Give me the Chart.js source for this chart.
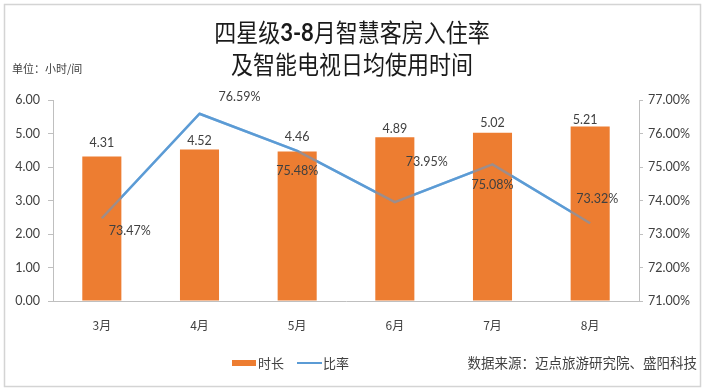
<!DOCTYPE html>
<html><head><meta charset="utf-8">
<script src="https://cdn.jsdelivr.net/npm/chart.js@4/dist/chart.umd.min.js"></script>
<style>html,body{margin:0;padding:0;background:#fff;}#wrap{width:705px;height:391px;position:relative;}</style>
</head><body><div id="wrap"><canvas id="c" width="705" height="391"></canvas></div>
<script>
// ---- data ----
const categories = ['3月','4月','5月','6月','7月','8月'];
const durationHours = [4.31, 4.52, 4.46, 4.89, 5.02, 5.21];      // 时长 (小时/间)
const occupancyRate = [73.47, 76.59, 75.48, 73.95, 75.08, 73.32]; // 比率 (%)
const leftTicks = [0, 1, 2, 3, 4, 5, 6];
const rightTicks = [71, 72, 73, 74, 75, 76, 77];
const seriesNames = ['时长', '比率'];
const titleLine1 = ['四星级', '3-8', '月智慧客房入住率'];
const titleLine2 = '及智能电视日均使用时间';
const unitText = '单位：小时/间';
const sourceText = '数据来源：迈点旅游研究院、盛阳科技';

// ---- styling / label placement (not data) ----
const ORANGE = '#ED7D31', BLUE = '#5B9BD5', TXT = '#404040', AXIS = '#bfbfbf';
const LATIN = 'Lato, "Liberation Sans", sans-serif';
const CJK = '"Noto Sans CJK SC", sans-serif';
const barLabelOffsets = [[0,-14],[0,-9],[0,-15],[0,-8],[0,-10],[-5,-6]];
const rateLabelOffsets = [[28,13],[40,-17],[0,20],[32,-40],[0,21],[7,-24]];

const decor = {
  id: 'decor',
  beforeDraw(chart) {
    const ctx = chart.ctx;
    ctx.save();
    ctx.fillStyle = '#fff';
    ctx.fillRect(0, 0, chart.width, chart.height);
    ctx.strokeStyle = '#d4d4d4';
    ctx.lineWidth = 1.5;
    ctx.strokeRect(4.5, 4.5, 696, 382);
    ctx.restore();
  },
  beforeDatasetsDraw(chart) {
    // solid copy of the rate line underneath the bars
    const meta = chart.getDatasetMeta(0);
    const ctx = chart.ctx;
    ctx.save();
    ctx.strokeStyle = BLUE;
    ctx.lineWidth = 2.5;
    ctx.lineJoin = 'round';
    ctx.beginPath();
    meta.data.forEach((p, i) => { if (i === 0) ctx.moveTo(p.x, p.y); else ctx.lineTo(p.x, p.y); });
    ctx.stroke();
    ctx.restore();
  },
  afterDatasetsDraw(chart) {
    const ctx = chart.ctx;
    ctx.save();
    ctx.fillStyle = TXT;
    ctx.textAlign = 'center';
    ctx.textBaseline = 'middle';
    ctx.font = '12.5px ' + LATIN;
    const barMeta = chart.getDatasetMeta(1);
    barMeta.data.forEach((b, i) => {
      const o = barLabelOffsets[i];
      ctx.fillText(durationHours[i].toFixed(2), b.x + o[0], b.y + o[1]);
    });
    const lineMeta = chart.getDatasetMeta(0);
    lineMeta.data.forEach((p, i) => {
      const o = rateLabelOffsets[i];
      ctx.fillText(occupancyRate[i].toFixed(2) + '%', p.x + o[0], p.y + o[1]);
    });
    ctx.restore();
  },
  afterDraw(chart) {
    const ctx = chart.ctx;
    ctx.save();
    // title
    ctx.fillStyle = '#1a1a1a';
    ctx.textBaseline = 'middle';
    ctx.textAlign = 'left';
    const fN = '22px ' + CJK, fB = 'bold 22px ' + LATIN;
    const fonts = [fN, fB, fN];
    let w = 0;
    titleLine1.forEach((s, i) => { ctx.font = fonts[i]; w += ctx.measureText(s).width; });
    ctx.save();
    ctx.translate(0, 33); ctx.scale(1, 1.12);
    let x = 352 - w / 2;
    titleLine1.forEach((s, i) => { ctx.font = fonts[i]; ctx.fillText(s, x, 0); x += ctx.measureText(s).width; });
    ctx.restore();
    ctx.save();
    ctx.translate(0, 65); ctx.scale(1, 1.12);
    ctx.font = fN; ctx.textAlign = 'center';
    ctx.fillText(titleLine2, 352, 0);
    ctx.restore();
    // unit
    ctx.fillStyle = TXT;
    ctx.textAlign = 'left';
    ctx.font = '11px ' + CJK;
    ctx.fillText(unitText, 12, 69);
    // legend
    ctx.font = '13px ' + CJK;
    ctx.fillStyle = ORANGE;
    ctx.fillRect(232, 360, 24, 6);
    ctx.fillStyle = TXT;
    ctx.fillText(seriesNames[0], 258, 363);
    ctx.strokeStyle = BLUE; ctx.lineWidth = 2;
    ctx.beginPath(); ctx.moveTo(297, 363); ctx.lineTo(322, 363); ctx.stroke();
    ctx.fillText(seriesNames[1], 323, 363);
    // source
    ctx.font = '13.5px ' + CJK;
    ctx.textAlign = 'right';
    ctx.fillText(sourceText, 697, 363);
    ctx.restore();
  }
};

new Chart(document.getElementById('c'), {
  type: 'bar',
  data: {
    labels: categories,
    datasets: [
      { type: 'line', label: seriesNames[1], data: occupancyRate, yAxisID: 'y1',
        borderColor: 'rgba(91,155,213,0.55)', borderWidth: 2.5, pointRadius: 0, tension: 0, order: 0 },
      { type: 'bar', label: seriesNames[0], data: durationHours, yAxisID: 'y',
        backgroundColor: ORANGE, barPercentage: 0.4, categoryPercentage: 1, order: 1 }
    ]
  },
  options: {
    responsive: false,
    devicePixelRatio: 1,
    animation: false,
    layout: { padding: { top: 100, bottom: 0, left: 0, right: 0 } },
    plugins: { legend: { display: false }, title: { display: false }, tooltip: { enabled: false } },
    scales: {
      x: {
        grid: { display: true, drawOnChartArea: false, drawTicks: false, color: AXIS },
        border: { display: true, color: AXIS, width: 1 },
        ticks: { padding: 17, color: TXT, font: { size: 12, family: CJK } },
        afterFit: s => { s.height = 90; }
      },
      y: {
        position: 'left', min: 0, max: 6,
        afterBuildTicks: s => { s.ticks = leftTicks.map(v => ({ value: v })); },
        ticks: { padding: 8, color: TXT, font: { size: 12.5, family: LATIN }, callback: v => Number(v).toFixed(2) },
        grid: { drawOnChartArea: false, tickLength: 5, color: AXIS },
        border: { display: true, color: AXIS },
        afterFit: s => { s.width = 53; }
      },
      y1: {
        position: 'right', min: 71, max: 77,
        afterBuildTicks: s => { s.ticks = rightTicks.map(v => ({ value: v })); },
        ticks: { padding: 5, color: TXT, font: { size: 12.5, family: LATIN }, callback: v => Number(v).toFixed(2) + '%' },
        grid: { drawOnChartArea: false, tickLength: 4, color: AXIS },
        border: { display: true, color: AXIS },
        afterFit: s => { s.width = 66; }
      }
    }
  },
  plugins: [decor]
});
</script>
</body></html>
